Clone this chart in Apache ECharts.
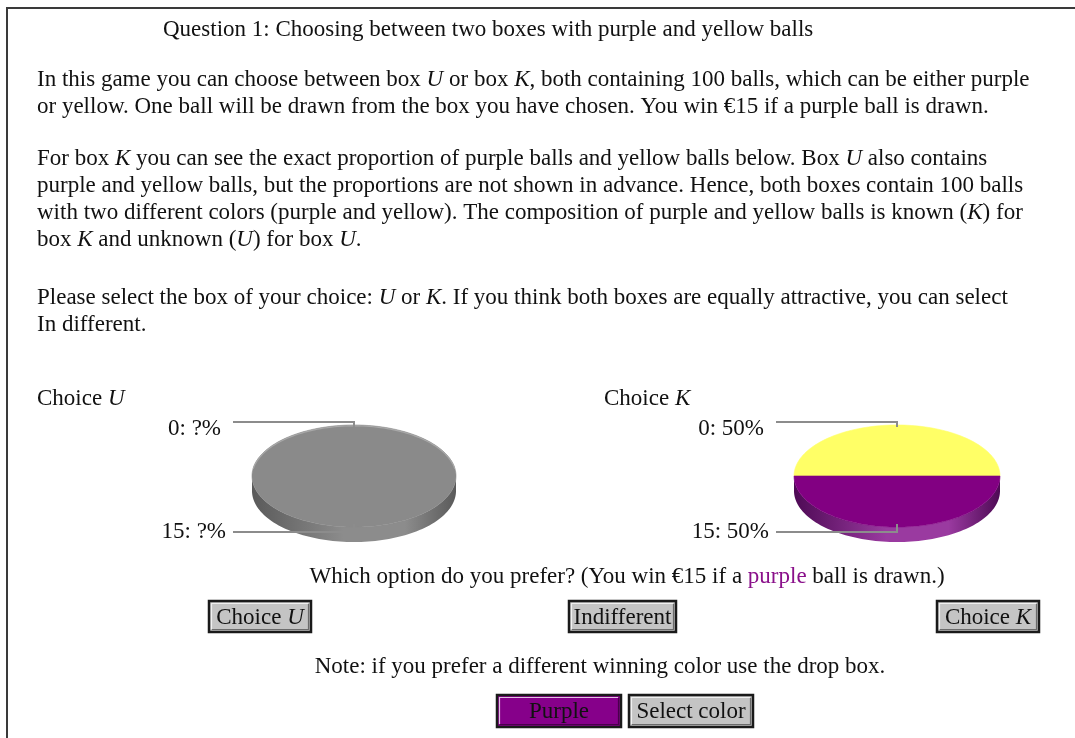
<!DOCTYPE html>
<html>
<head>
<meta charset="utf-8">
<title>Question 1</title>
<script src="https://cdn.jsdelivr.net/npm/echarts@6/dist/echarts.min.js"></script>
<style>
  html, body { margin: 0; padding: 0; background: #fff; }
  #chart { width: 1075px; height: 738px; }
</style>
</head>
<body>
<div id="chart"></div>
<script>
// ---- data ----
const sliceNames = ['0', '15'];          // payoff of each ball colour (euro)
const boxUValues = [50, 50];             // composition of box U (not revealed)
const boxULabels = ['?%', '?%'];
const boxKValues = [50, 50];             // composition of box K
const boxKLabels = boxKValues.map(v => v + '%');

const titleText = 'Question 1: Choosing between two boxes with purple and yellow balls';
const paragraphLines = [
  'In this game you can choose between box {i|U} or box {i|K}, both containing 100 balls, which can be either purple',
  'or yellow. One ball will be drawn from the box you have chosen. You win €15 if a purple ball is drawn.',
  'For box {i|K} you can see the exact proportion of purple balls and yellow balls below. Box {i|U} also contains',
  'purple and yellow balls, but the proportions are not shown in advance. Hence, both boxes contain 100 balls',
  'with two different colors (purple and yellow). The composition of purple and yellow balls is known ({i|K}) for',
  'box {i|K} and unknown ({i|U}) for box {i|U}.',
  'Please select the box of your choice: {i|U} or {i|K}. If you think both boxes are equally attractive, you can select',
  'In different.'
];
const paragraphLineY = [80, 107, 159, 186, 213, 240, 298, 325];

// ---- styling ----
const FONT = '"Liberation Serif", "Times New Roman", serif';
const FS = 23;
const rich = {
  i: { fontStyle: 'italic', fontFamily: FONT, fontSize: FS, fill: '#111' },
  p: { fontFamily: FONT, fontSize: FS, fill: '#8a108a' }
};

function textEl(str, x, y, align) {
  return {
    type: 'text', x: x, y: y, silent: true,
    style: {
      text: str, fontFamily: FONT, fontSize: FS, fill: '#111',
      align: align || 'left', verticalAlign: 'middle', rich: rich
    }
  };
}

function button(x, y, w, h, label, fill) {
  return {
    type: 'group', x: x, y: y, silent: true,
    children: [
      { type: 'rect', shape: { x: 0, y: 0, width: w, height: h },
        style: { fill: fill, stroke: '#1a1a1a', lineWidth: 2.5 } },
      { type: 'polyline', shape: { points: [[2.5, h - 3], [2.5, 2.5], [w - 3, 2.5]] },
        style: { stroke: 'rgba(255,255,255,0.75)', lineWidth: 1.2, fill: null } },
      { type: 'polyline', shape: { points: [[3, h - 2.5], [w - 2.5, h - 2.5], [w - 2.5, 3]] },
        style: { stroke: 'rgba(0,0,0,0.45)', lineWidth: 1.2, fill: null } },
      { type: 'text', x: w / 2, y: h / 2 + 1,
        style: { text: label, fontFamily: FONT, fontSize: FS, fill: '#111',
                 align: 'center', verticalAlign: 'middle', rich: rich } }
    ]
  };
}

// Tilted pie drawn as an ellipse with visible rim; one group per slice
function tiltedPie(values, labels, topColors, sideColors, rimColor, geom) {
  const total = values.reduce((a, b) => a + b, 0);
  const STEP = Math.PI / 90;
  function pt(t, dy) {
    return [geom.cx + geom.rx * Math.cos(t), geom.cy + geom.ry * Math.sin(t) + (dy || 0)];
  }
  function arc(a, b, dy) {
    const pts = [];
    const n = Math.max(2, Math.ceil(Math.abs(b - a) / STEP));
    for (let k = 0; k <= n; k++) pts.push(pt(a + (b - a) * k / n, dy));
    return pts;
  }
  return function (params, api) {
    const i = params.dataIndex;
    let before = 0;
    for (let j = 0; j < i; j++) before += values[j];
    const v = api.value(0);
    const a0 = Math.PI + before / total * 2 * Math.PI;
    const a1 = Math.PI + (before + v) / total * 2 * Math.PI;
    const children = [];

    // visible rim: portion of the slice lying in the front half
    for (let k = 0; k < 3; k++) {
      const s = Math.max(a0, 2 * Math.PI * k), e = Math.min(a1, 2 * Math.PI * k + Math.PI);
      if (s < e) {
        const pts = arc(s, e, geom.depth).concat(arc(e, s, 0));
        children.push({
          type: 'polygon', shape: { points: pts },
          style: {
            fill: new echarts.graphic.LinearGradient(0, 0, 1, 0, [
              { offset: 0, color: sideColors[0] },
              { offset: 0.45, color: sideColors[1] },
              { offset: 0.75, color: sideColors[1] },
              { offset: 1, color: sideColors[0] }
            ]),
            stroke: null
          }
        });
      }
    }
    // top face
    children.push({
      type: 'polygon',
      shape: { points: [[geom.cx, geom.cy]].concat(arc(a0, a1, 0)) },
      style: { fill: topColors[i], stroke: topColors[i], lineWidth: 0.6 }
    });
    // soft highlight along the back edge of the top face
    const hs = Math.max(a0, Math.PI * 1.05), he = Math.min(a1, Math.PI * 1.95);
    if (rimColor && hs < he) {
      children.push({
        type: 'polyline', shape: { points: arc(hs, he, 0.8) },
        style: { stroke: rimColor, lineWidth: 1.2, fill: null }
      });
    }

    // leader line and label at the slice's mid angle
    const mid = (a0 + a1) / 2;
    const up = Math.sin(mid) < 0;
    const p = pt(mid, 0);
    const ay = up ? p[1] + 2 : p[1] - 3;
    const ly = up ? p[1] - 3 : p[1] + 5;
    children.push({
      type: 'polyline',
      shape: { points: [[p[0], ay], [p[0], ly], [p[0] - 121, ly]] },
      style: { stroke: '#8c8c8c', lineWidth: 2, fill: null }
    });
    children.push({
      type: 'text', x: p[0] - (up ? 133 : 128), y: ly + (up ? 7 : 0),
      style: {
        text: sliceNames[i] + ': ' + labels[i], fontFamily: FONT, fontSize: FS,
        fill: '#111', align: 'right', verticalAlign: 'middle'
      }
    });
    return { type: 'group', children: children };
  };
}

const chart = echarts.init(document.getElementById('chart'), null, { renderer: 'canvas' });

const graphics = [
  // page frame
  { type: 'polyline', silent: true,
    shape: { points: [[7, 738], [7, 8], [1075, 8]] },
    style: { stroke: '#3a3a3a', lineWidth: 2, fill: null } },
  textEl(titleText, 163, 30),
  textEl('Choice {i|U}', 37, 399),
  textEl('Choice {i|K}', 604, 399),
  textEl('Which option do you prefer? (You win €15 if a {p|purple} ball is drawn.)', 627, 577, 'center'),
  button(209, 601, 102, 31, 'Choice {i|U}', '#c4c4c4'),
  button(569, 601, 107, 31, 'Indifferent', '#c4c4c4'),
  button(937, 601, 102, 31, 'Choice {i|K}', '#c4c4c4'),
  textEl('Note: if you prefer a different winning color use the drop box.', 600, 667, 'center'),
  button(497, 695, 124, 32, 'Purple', '#86008a'),
  button(629, 695, 124, 32, 'Select color', '#c4c4c4')
];
paragraphLines.forEach((line, k) => graphics.push(textEl(line, 37, paragraphLineY[k])));

chart.setOption({
  animation: false,
  backgroundColor: '#ffffff',
  graphic: graphics,
  series: [
    {
      type: 'custom', name: 'Box U', coordinateSystem: 'none',
      renderItem: tiltedPie(boxUValues, boxULabels, ['#8a8a8a', '#8a8a8a'],
        ['#5a5a5a', '#8c8c8c'], '#a8a8a8', { cx: 354, cy: 476, rx: 102, ry: 51, depth: 15 }),
      data: sliceNames.map((n, i) => ({ name: n, value: [boxUValues[i]] }))
    },
    {
      type: 'custom', name: 'Box K', coordinateSystem: 'none',
      renderItem: tiltedPie(boxKValues, boxKLabels, ['#ffff66', '#820082'],
        ['#4e0a55', '#9a3aa0'], null, { cx: 897, cy: 476, rx: 103, ry: 51, depth: 15 }),
      data: sliceNames.map((n, i) => ({ name: n, value: [boxKValues[i]] }))
    }
  ]
});
</script>
</body>
</html>
